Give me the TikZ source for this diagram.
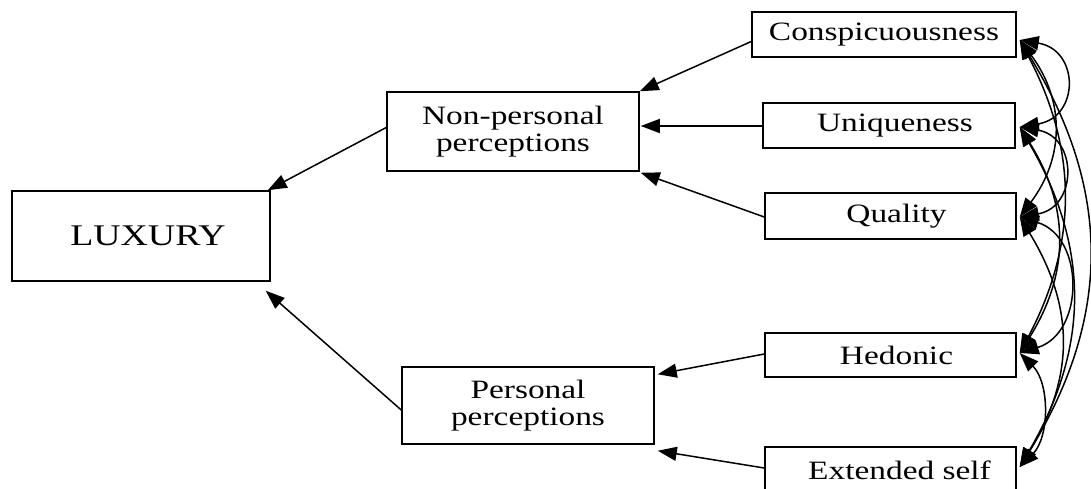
\documentclass[tikz,border=0pt]{standalone}
\usepackage{fontspec}
\setmainfont{Liberation Serif}[FakeStretch=1.26]
\usetikzlibrary{arrows.meta,calc}
\begin{document}
\begin{tikzpicture}[x=1pt,y=-1pt,line width=1.5pt,
  >={Triangle[length=19pt,width=14pt]},
  box/.style={draw,line width=1.5pt,inner sep=0pt,align=center,
    font=\fontsize{26.5}{27}\selectfont},
  link/.style={->},
  corr/.style={<->}]
\useasboundingbox (0,0) rectangle (1091,488);
\clip (0,0) rectangle (1091,488);
% boxes
\node[box,minimum width=258pt,minimum height=90pt,font=\fontsize{30}{31}\selectfont] (lux) at (141,236) {\hspace*{14pt}LUXURY};
\node[box,minimum width=252pt,minimum height=79pt] (np) at (513,131.5) {Non-personal\\perceptions};
\node[box,minimum width=252pt,minimum height=77pt] (pp) at (528,405.5) {Personal\\perceptions};
\node[box,minimum width=264pt,minimum height=45pt] (con) at (884,34.5) {Conspicuousness};
\node[box,minimum width=252pt,minimum height=45pt] (uni) at (889,125.5) {\hspace*{12pt}Uniqueness};
\node[box,minimum width=251pt,minimum height=46pt] (qua) at (890.5,216) {\hspace*{12pt}Quality};
\node[box,minimum width=251pt,minimum height=44pt] (hed) at (890.5,355) {\hspace*{12pt}Hedonic};
\node[box,minimum width=251pt,minimum height=46pt] (ext) at (890.5,470) {\hspace*{18pt}Extended self};
% straight paths
\draw[link] ($(con.west)+(0,7)$) -- (np.north east);
\draw[link] ($(uni.west)+(0,0.5)$) -- ($(np.east)+(1,-5.5)$);
\draw[link] ($(qua.west)+(0,1)$) -- ($(np.south east)+(1,1)$);
\draw[link] ($(np.west)+(0,-4)$) -- ($(lux.north east)+(-3,0)$);
\draw[link] ($(pp.west)+(0,4.5)$) -- ($(lux.south east)+(-5,9)$);
\draw[link] ($(hed.west)+(0,-1)$) -- ($(pp.north east)+(3,8)$);
\draw[link] ($(ext.west)+(0,-2)$) -- ($(pp.south east)+(3,6)$);
% correlation anchors
\coordinate (Ct) at ($(con.east)+(3,5.5)$);
\coordinate (Ut) at ($(uni.east)+(4,1.5)$);
\coordinate (Qt) at ($(qua.east)+(3,1)$);
\coordinate (Ht) at ($(hed.east)+(3,-2)$);
\coordinate (Et) at ($(ext.east)+(3,-3)$);
% correlations
\draw[corr] (Ct) .. controls +(60,10) and +(60,-10) .. (Ut);
\draw[corr] (Ut) .. controls +(58,10) and +(58,-10) .. (Qt);
\draw[corr] (Qt) .. controls +(65,20) and +(65,-20) .. (Ht);
\draw[corr] (Ht) .. controls +(30,30) and +(30,-30) .. (Et);
\draw[corr] (Ct) .. controls +(45,60) and +(45,-60) .. (Qt);
\draw[corr] (Ut) .. controls +(50,80) and +(50,-80) .. (Ht);
\draw[corr] (Qt) .. controls +(55,90) and +(55,-90) .. (Et);
\draw[corr] (Ct) .. controls +(58,110) and +(58,-110) .. (Ht);
\draw[corr] (Ut) .. controls +(70,120) and +(70,-120) .. (Et);
\draw[corr] (Ct) .. controls +(92,150) and +(92,-150) .. (Et);
\end{tikzpicture}
\end{document}
